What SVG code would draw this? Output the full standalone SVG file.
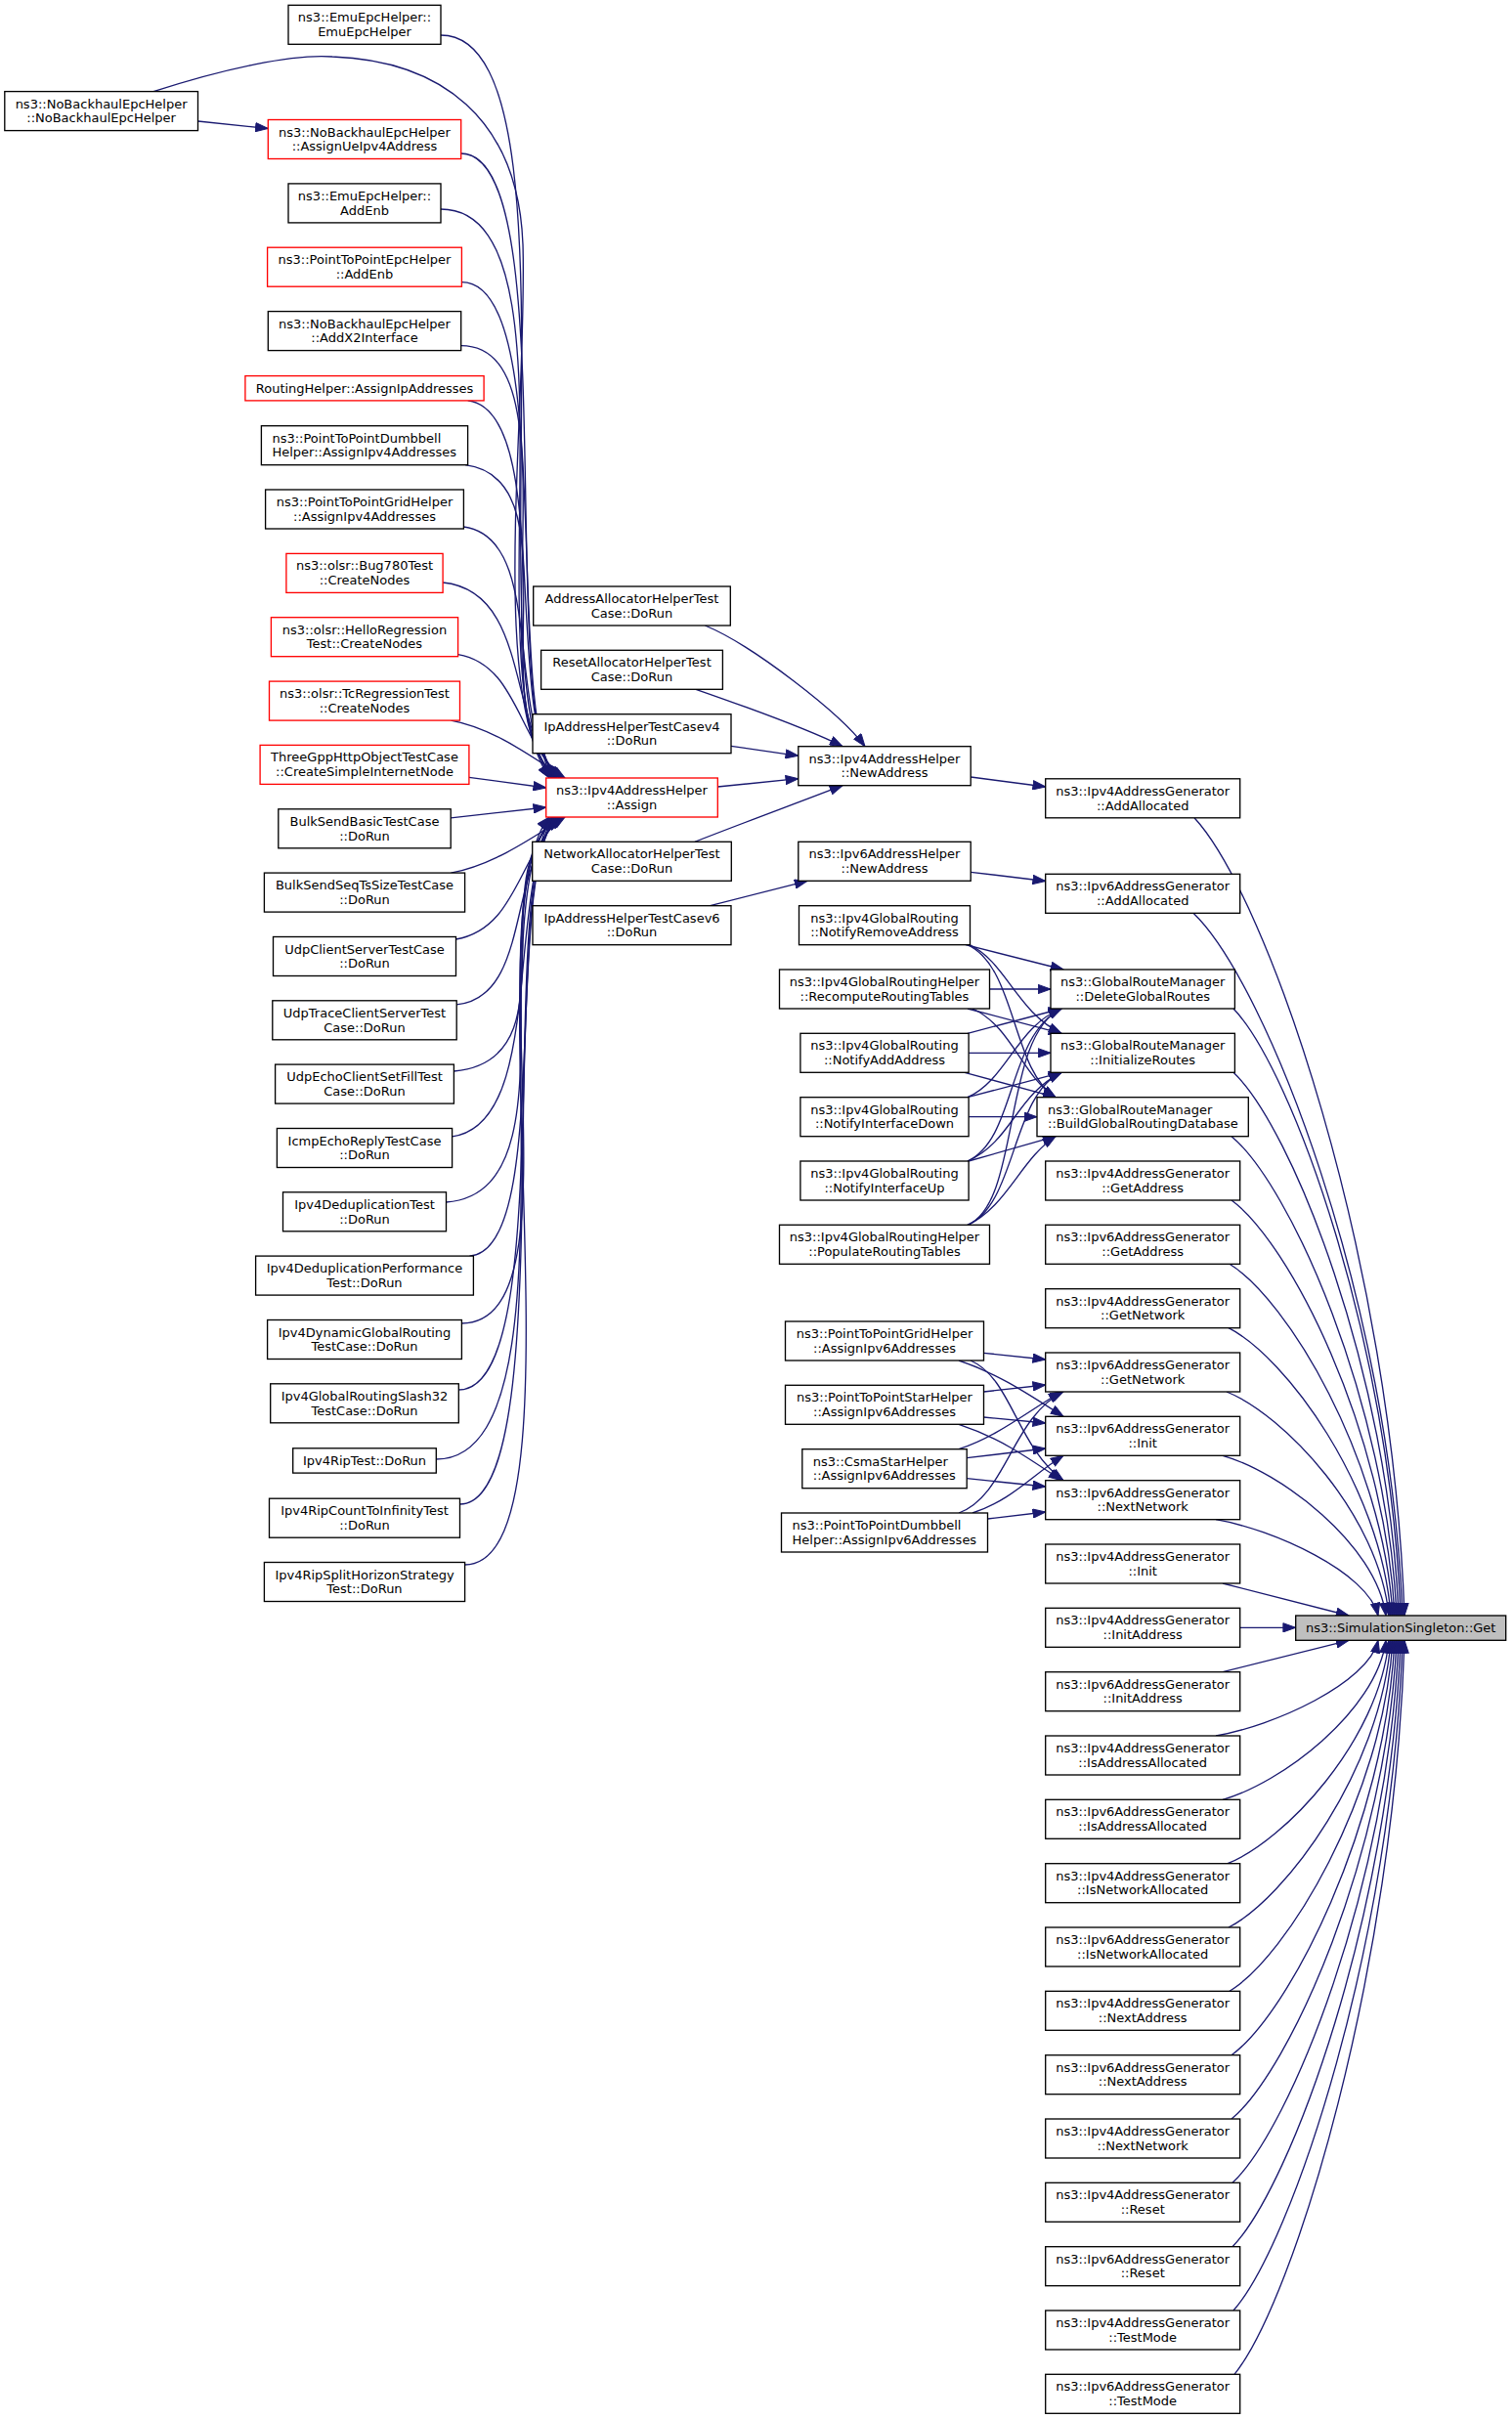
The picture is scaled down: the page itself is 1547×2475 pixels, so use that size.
<svg xmlns="http://www.w3.org/2000/svg" width="1547" height="2475" viewBox="0 0 1547 2475">
<defs>
<marker id="ah" viewBox="0 0 14 10" markerWidth="14" markerHeight="10" refX="13.3" refY="5" orient="auto" markerUnits="userSpaceOnUse"><path d="M0.5,0.4 L13.3,5 L0.5,9.6 z" fill="#191970" stroke="#191970" stroke-width="1"/></marker>
</defs>
<style>
.node rect{fill:#fff;stroke:#000;stroke-width:1.33}
.node.red rect{stroke:#f00}
.node.root rect{fill:#bfbfbf}
text{font-family:"DejaVu Sans","Liberation Sans",sans-serif;font-size:13px;fill:#000}
.c{text-anchor:middle}
.edges path{fill:none;stroke:#191970;stroke-width:1.33;marker-end:url(#ah)}
</style>
<rect x="0" y="0" width="1547" height="2475" fill="#fff"/>
<g class="edges">
<path d="M202.5,124 L274.3,131.5"/>
<path d="M157,93.6 C230,70 300,55 340,58 C450,62 530,120 535,250 C540,420 500,700 562,796"/>
<path d="M451,36 C600,36 485,690 564,796"/>
<path d="M471.7,157 C575,157 510,700 565,796"/>
<path d="M451,214 C600,214 480,705 566,796"/>
<path d="M472.4,288.6 C570,288.6 515,715 567,796"/>
<path d="M471.7,353.6 C595,353.6 485,720 568,796"/>
<path d="M478.7,409.9 C565,420 515,725 569,796"/>
<path d="M476,475.7 C590,490 490,730 570,796"/>
<path d="M474.4,539 C560,550 515,740 572,796"/>
<path d="M453.1,596 C545,605 518,750 574,796"/>
<path d="M468.6,669.6 C530,680 530,760 576,796"/>
<path d="M461.4,737.1 C505,745 545,775 578,796"/>
<path d="M479.9,795.4 L558.7,806"/>
<path d="M461.2,836.8 L558.7,826"/>
<path d="M461.4,893.1 C505,885 545,857 578,836"/>
<path d="M466.5,961 C530,950 530,872 576,836"/>
<path d="M467.2,1027.9 C545,1020 518,882 574,836"/>
<path d="M464.4,1096 C590,1085 490,892 572,836"/>
<path d="M462.6,1162.9 C560,1150 515,902 570,836"/>
<path d="M456.5,1230 C595,1220 485,907 569,836"/>
<path d="M480.4,1285.1 C565,1280 515,912 568,836"/>
<path d="M472.4,1354 C600,1354 480,917 567,836"/>
<path d="M469.3,1422 C570,1422 510,922 566,836"/>
<path d="M446.3,1493 C600,1493 485,927 565,836"/>
<path d="M470.5,1539 C575,1539 505,932 564,836"/>
<path d="M475.6,1601 C605,1601 480,932 562,836"/>
<path d="M721.4,640 C770,660 860,730 885,763.7"/>
<path d="M712,705.3 C760,722 825,745 862,763.7"/>
<path d="M748,763.3 L816.8,773.3"/>
<path d="M734.3,805 L816.8,796.7"/>
<path d="M711,861.3 C760,842 820,820 862,803.7"/>
<path d="M726.6,926.7 L826,901.3"/>
<path d="M993.2,795 L1069.7,805"/>
<path d="M993.2,892.3 L1069.7,901.5"/>
<path d="M988,966.7 L1088,992"/>
<path d="M992,966.7 C1030,985 1040,1035 1086,1057.3"/>
<path d="M990,966.7 C1040,990 1035,1095 1080,1122.7"/>
<path d="M1012.5,1012 L1075,1012"/>
<path d="M990,1032 L1086,1057.3"/>
<path d="M995,1032 C1035,1050 1045,1100 1080,1122.7"/>
<path d="M990,1057.3 L1086,1032"/>
<path d="M991.1,1077.3 L1075,1077.3"/>
<path d="M987,1097.3 L1080,1122.7"/>
<path d="M990,1122.7 C1030,1105 1040,1050 1086,1032"/>
<path d="M990,1122.7 L1086,1097.3"/>
<path d="M991.1,1142.7 L1061,1142.7"/>
<path d="M990,1188 C1040,1165 1030,1060 1086,1032"/>
<path d="M990,1188 C1035,1168 1040,1120 1086,1097.3"/>
<path d="M991,1188 L1080,1162.7"/>
<path d="M990,1253.3 C1045,1230 1025,1060 1086,1032"/>
<path d="M990,1253.3 C1040,1232 1035,1120 1086,1097.3"/>
<path d="M990,1253.3 C1030,1235 1045,1185 1080,1162.7"/>
<path d="M1006.5,1384.3 L1069.7,1391"/>
<path d="M981,1392 C1020,1405 1050,1425 1088,1449.3"/>
<path d="M993,1392 C1035,1410 1040,1480 1088,1514.7"/>
<path d="M1006.5,1424 L1069.7,1417"/>
<path d="M1006.5,1450 L1069.7,1456"/>
<path d="M981,1457.3 C1020,1470 1050,1490 1086,1514.7"/>
<path d="M981,1482.7 C1020,1470 1050,1445 1086,1424"/>
<path d="M989.2,1491.7 L1069.7,1482"/>
<path d="M989.2,1512.7 L1069.7,1521"/>
<path d="M981,1548 C1030,1530 1035,1450 1088,1424"/>
<path d="M995,1548 C1035,1535 1055,1510 1088,1489.3"/>
<path d="M1010.5,1554 L1069.7,1547"/>
<path d="M1222,836.8 C1297.3,918.6 1424.1,1285.8 1437,1653"/>
<path d="M1221,934.3 C1295.9,1006.2 1422.2,1329.6 1435,1653"/>
<path d="M1262,1032 C1321.9,1094.1 1422.7,1373.6 1433,1653"/>
<path d="M1262,1097.3 C1321.2,1152.9 1420.9,1402.9 1431,1653"/>
<path d="M1260,1162.7 C1319.2,1211.7 1418.9,1432.4 1429,1653"/>
<path d="M1260,1228 C1318.5,1270.5 1417,1461.8 1427,1653"/>
<path d="M1258,1293.3 C1316.5,1329.3 1415,1491.1 1425,1653"/>
<path d="M1257,1358.7 C1315.1,1388.1 1413,1520.6 1423,1653"/>
<path d="M1255,1424 C1313.1,1446.9 1411,1550 1421,1653"/>
<path d="M1251,1489.3 C1309.5,1505.7 1408,1579.3 1418,1653"/>
<path d="M1244,1554.7 C1302.1,1564.5 1400,1608.8 1410,1653"/>
<path d="M1251,1620 L1380,1653"/>
<path d="M1268.7,1665.3 L1325.7,1665.3"/>
<path d="M1251,1710.7 L1380,1678.3"/>
<path d="M1244,1776 C1302.1,1766.2 1400,1722.3 1410,1678.3"/>
<path d="M1251,1841.3 C1309.5,1825 1408,1751.7 1418,1678.3"/>
<path d="M1256,1906.7 C1313.8,1883.9 1411.1,1781.1 1421,1678.3"/>
<path d="M1257,1972 C1315.1,1942.6 1413,1810.5 1423,1678.3"/>
<path d="M1258,2037.3 C1316.5,2001.4 1415,1839.9 1425,1678.3"/>
<path d="M1260,2102.7 C1318.5,2060.3 1417,1869.3 1427,1678.3"/>
<path d="M1260,2168 C1319.2,2119 1418.9,1898.7 1429,1678.3"/>
<path d="M1261,2233.3 C1320.5,2177.8 1420.8,1928 1431,1678.3"/>
<path d="M1261,2298.7 C1321.2,2236.7 1422.7,1957.5 1433,1678.3"/>
<path d="M1262,2364 C1322.6,2295.4 1424.6,1986.9 1435,1678.3"/>
<path d="M1263,2429.3 C1323.9,2354.2 1426.6,2016.3 1437,1678.3"/>
</g>
<g id="nA" class="node"><rect x="4.8" y="93.6" width="197.7" height="40"/><text class="c" x="103.6" y="110.6">ns3::NoBackhaulEpcHelper</text><text class="c" x="103.6" y="125.3">::NoBackhaulEpcHelper</text></g>
<g id="b1" class="node"><rect x="295" y="5.3" width="156" height="40"/><text class="c" x="373" y="22.3">ns3::EmuEpcHelper::</text><text class="c" x="373" y="37">EmuEpcHelper</text></g>
<g id="b2" class="node red"><rect x="274.3" y="122.5" width="197.4" height="40"/><text class="c" x="373" y="139.5">ns3::NoBackhaulEpcHelper</text><text class="c" x="373" y="154.2">::AssignUeIpv4Address</text></g>
<g id="b3" class="node"><rect x="295" y="187.9" width="156" height="40"/><text class="c" x="373" y="204.9">ns3::EmuEpcHelper::</text><text class="c" x="373" y="219.6">AddEnb</text></g>
<g id="b4" class="node red"><rect x="273.6" y="253.2" width="198.8" height="40"/><text class="c" x="373" y="270.2">ns3::PointToPointEpcHelper</text><text class="c" x="373" y="284.9">::AddEnb</text></g>
<g id="b5" class="node"><rect x="274.3" y="318.6" width="197.4" height="40"/><text class="c" x="373" y="335.6">ns3::NoBackhaulEpcHelper</text><text class="c" x="373" y="350.3">::AddX2Interface</text></g>
<g id="b6" class="node red"><rect x="250.9" y="384.6" width="244.2" height="25.3"/><text class="c" x="373" y="401.9">RoutingHelper::AssignIpAddresses</text></g>
<g id="b7" class="node"><rect x="267.4" y="435.7" width="211.2" height="40"/><text x="278.4" y="452.7">ns3::PointToPointDumbbell</text><text x="278.4" y="467.4">Helper::AssignIpv4Addresses</text></g>
<g id="b8" class="node"><rect x="271.6" y="501" width="202.8" height="40"/><text class="c" x="373" y="518">ns3::PointToPointGridHelper</text><text class="c" x="373" y="532.7">::AssignIpv4Addresses</text></g>
<g id="b9" class="node red"><rect x="292.9" y="566.4" width="160.2" height="40"/><text class="c" x="373" y="583.4">ns3::olsr::Bug780Test</text><text class="c" x="373" y="598.1">::CreateNodes</text></g>
<g id="b10" class="node red"><rect x="277.4" y="631.7" width="191.2" height="40"/><text class="c" x="373" y="648.7">ns3::olsr::HelloRegression</text><text class="c" x="373" y="663.4">Test::CreateNodes</text></g>
<g id="b11" class="node red"><rect x="275.5" y="697.1" width="195" height="40"/><text class="c" x="373" y="714.1">ns3::olsr::TcRegressionTest</text><text class="c" x="373" y="728.8">::CreateNodes</text></g>
<g id="b12" class="node red"><rect x="266.1" y="762.4" width="213.8" height="40"/><text class="c" x="373" y="779.4">ThreeGppHttpObjectTestCase</text><text class="c" x="373" y="794.1">::CreateSimpleInternetNode</text></g>
<g id="b13" class="node"><rect x="284.8" y="827.8" width="176.4" height="40"/><text class="c" x="373" y="844.8">BulkSendBasicTestCase</text><text class="c" x="373" y="859.5">::DoRun</text></g>
<g id="b14" class="node"><rect x="270.4" y="893.1" width="205.2" height="40"/><text class="c" x="373" y="910.1">BulkSendSeqTsSizeTestCase</text><text class="c" x="373" y="924.8">::DoRun</text></g>
<g id="b15" class="node"><rect x="279.5" y="958.5" width="187" height="40"/><text class="c" x="373" y="975.5">UdpClientServerTestCase</text><text class="c" x="373" y="990.2">::DoRun</text></g>
<g id="b16" class="node"><rect x="278.8" y="1023.8" width="188.4" height="40"/><text class="c" x="373" y="1040.8">UdpTraceClientServerTest</text><text class="c" x="373" y="1055.5">Case::DoRun</text></g>
<g id="b17" class="node"><rect x="281.6" y="1089.1" width="182.8" height="40"/><text class="c" x="373" y="1106.1">UdpEchoClientSetFillTest</text><text class="c" x="373" y="1120.8">Case::DoRun</text></g>
<g id="b18" class="node"><rect x="283.4" y="1154.5" width="179.2" height="40"/><text class="c" x="373" y="1171.5">IcmpEchoReplyTestCase</text><text class="c" x="373" y="1186.2">::DoRun</text></g>
<g id="b19" class="node"><rect x="289.5" y="1219.8" width="167" height="40"/><text class="c" x="373" y="1236.8">Ipv4DeduplicationTest</text><text class="c" x="373" y="1251.5">::DoRun</text></g>
<g id="b20" class="node"><rect x="261.6" y="1285.1" width="222.8" height="40"/><text class="c" x="373" y="1302.1">Ipv4DeduplicationPerformance</text><text class="c" x="373" y="1316.8">Test::DoRun</text></g>
<g id="b21" class="node"><rect x="273.6" y="1350.5" width="198.8" height="40"/><text class="c" x="373" y="1367.5">Ipv4DynamicGlobalRouting</text><text class="c" x="373" y="1382.2">TestCase::DoRun</text></g>
<g id="b22" class="node"><rect x="276.7" y="1415.8" width="192.6" height="40"/><text class="c" x="373" y="1432.8">Ipv4GlobalRoutingSlash32</text><text class="c" x="373" y="1447.5">TestCase::DoRun</text></g>
<g id="b23" class="node"><rect x="299.7" y="1481.8" width="146.6" height="25.3"/><text class="c" x="373" y="1499.1">Ipv4RipTest::DoRun</text></g>
<g id="b24" class="node"><rect x="275.5" y="1533.2" width="195" height="40"/><text class="c" x="373" y="1550.2">Ipv4RipCountToInfinityTest</text><text class="c" x="373" y="1564.9">::DoRun</text></g>
<g id="b25" class="node"><rect x="270.4" y="1598.5" width="205.2" height="40"/><text class="c" x="373" y="1615.5">Ipv4RipSplitHorizonStrategy</text><text class="c" x="373" y="1630.2">Test::DoRun</text></g>
<g id="m1" class="node"><rect x="545.7" y="600" width="201.6" height="40"/><text class="c" x="646.5" y="617">AddressAllocatorHelperTest</text><text class="c" x="646.5" y="631.7">Case::DoRun</text></g>
<g id="m2" class="node"><rect x="553.6" y="665.3" width="185.8" height="40"/><text class="c" x="646.5" y="682.3">ResetAllocatorHelperTest</text><text class="c" x="646.5" y="697">Case::DoRun</text></g>
<g id="m3" class="node"><rect x="545" y="730.7" width="203" height="40"/><text class="c" x="646.5" y="747.7">IpAddressHelperTestCasev4</text><text class="c" x="646.5" y="762.4">::DoRun</text></g>
<g id="m4" class="node red"><rect x="558.7" y="796" width="175.6" height="40"/><text class="c" x="646.5" y="813">ns3::Ipv4AddressHelper</text><text class="c" x="646.5" y="827.7">::Assign</text></g>
<g id="m5" class="node"><rect x="544.7" y="861.3" width="203.6" height="40"/><text class="c" x="646.5" y="878.3">NetworkAllocatorHelperTest</text><text class="c" x="646.5" y="893">Case::DoRun</text></g>
<g id="m6" class="node"><rect x="545" y="926.7" width="203" height="40"/><text class="c" x="646.5" y="943.7">IpAddressHelperTestCasev6</text><text class="c" x="646.5" y="958.4">::DoRun</text></g>
<g id="c1" class="node"><rect x="816.8" y="763.7" width="176.4" height="40"/><text class="c" x="905" y="780.7">ns3::Ipv4AddressHelper</text><text class="c" x="905" y="795.4">::NewAddress</text></g>
<g id="c2" class="node"><rect x="816.8" y="861.3" width="176.4" height="40"/><text class="c" x="905" y="878.3">ns3::Ipv6AddressHelper</text><text class="c" x="905" y="893">::NewAddress</text></g>
<g id="c3" class="node"><rect x="817.5" y="926.7" width="175" height="40"/><text class="c" x="905" y="943.7">ns3::Ipv4GlobalRouting</text><text class="c" x="905" y="958.4">::NotifyRemoveAddress</text></g>
<g id="c4" class="node"><rect x="797.5" y="992" width="215" height="40"/><text class="c" x="905" y="1009">ns3::Ipv4GlobalRoutingHelper</text><text class="c" x="905" y="1023.7">::RecomputeRoutingTables</text></g>
<g id="c5" class="node"><rect x="818.9" y="1057.3" width="172.2" height="40"/><text class="c" x="905" y="1074.3">ns3::Ipv4GlobalRouting</text><text class="c" x="905" y="1089">::NotifyAddAddress</text></g>
<g id="c6" class="node"><rect x="818.9" y="1122.7" width="172.2" height="40"/><text class="c" x="905" y="1139.7">ns3::Ipv4GlobalRouting</text><text class="c" x="905" y="1154.4">::NotifyInterfaceDown</text></g>
<g id="c7" class="node"><rect x="818.9" y="1188" width="172.2" height="40"/><text class="c" x="905" y="1205">ns3::Ipv4GlobalRouting</text><text class="c" x="905" y="1219.7">::NotifyInterfaceUp</text></g>
<g id="c8" class="node"><rect x="797.5" y="1253.3" width="215" height="40"/><text class="c" x="905" y="1270.3">ns3::Ipv4GlobalRoutingHelper</text><text class="c" x="905" y="1285">::PopulateRoutingTables</text></g>
<g id="c9" class="node"><rect x="803.5" y="1352" width="203" height="40"/><text class="c" x="905" y="1369">ns3::PointToPointGridHelper</text><text class="c" x="905" y="1383.7">::AssignIpv6Addresses</text></g>
<g id="c10" class="node"><rect x="803.5" y="1417.3" width="203" height="40"/><text class="c" x="905" y="1434.3">ns3::PointToPointStarHelper</text><text class="c" x="905" y="1449">::AssignIpv6Addresses</text></g>
<g id="c11" class="node"><rect x="820.8" y="1482.7" width="168.4" height="40"/><text x="831.8" y="1499.7">ns3::CsmaStarHelper</text><text x="831.8" y="1514.4">::AssignIpv6Addresses</text></g>
<g id="c12" class="node"><rect x="799.5" y="1548" width="211" height="40"/><text x="810.5" y="1565">ns3::PointToPointDumbbell</text><text x="810.5" y="1579.7">Helper::AssignIpv6Addresses</text></g>
<g id="d1" class="node"><rect x="1069.7" y="796.8" width="199" height="40"/><text class="c" x="1169.2" y="813.8">ns3::Ipv4AddressGenerator</text><text class="c" x="1169.2" y="828.5">::AddAllocated</text></g>
<g id="d2" class="node"><rect x="1069.7" y="894.3" width="199" height="40"/><text class="c" x="1169.2" y="911.3">ns3::Ipv6AddressGenerator</text><text class="c" x="1169.2" y="926">::AddAllocated</text></g>
<g id="d3" class="node"><rect x="1075" y="992" width="188.4" height="40"/><text class="c" x="1169.2" y="1009">ns3::GlobalRouteManager</text><text class="c" x="1169.2" y="1023.7">::DeleteGlobalRoutes</text></g>
<g id="d4" class="node"><rect x="1075" y="1057.3" width="188.4" height="40"/><text class="c" x="1169.2" y="1074.3">ns3::GlobalRouteManager</text><text class="c" x="1169.2" y="1089">::InitializeRoutes</text></g>
<g id="d5" class="node"><rect x="1061" y="1122.7" width="216.3" height="40"/><text x="1072" y="1139.7">ns3::GlobalRouteManager</text><text x="1072" y="1154.4">::BuildGlobalRoutingDatabase</text></g>
<g id="d6" class="node"><rect x="1069.7" y="1188" width="199" height="40"/><text class="c" x="1169.2" y="1205">ns3::Ipv4AddressGenerator</text><text class="c" x="1169.2" y="1219.7">::GetAddress</text></g>
<g id="d7" class="node"><rect x="1069.7" y="1253.3" width="199" height="40"/><text class="c" x="1169.2" y="1270.3">ns3::Ipv6AddressGenerator</text><text class="c" x="1169.2" y="1285">::GetAddress</text></g>
<g id="d8" class="node"><rect x="1069.7" y="1318.7" width="199" height="40"/><text class="c" x="1169.2" y="1335.7">ns3::Ipv4AddressGenerator</text><text class="c" x="1169.2" y="1350.4">::GetNetwork</text></g>
<g id="d9" class="node"><rect x="1069.7" y="1384" width="199" height="40"/><text class="c" x="1169.2" y="1401">ns3::Ipv6AddressGenerator</text><text class="c" x="1169.2" y="1415.7">::GetNetwork</text></g>
<g id="d10" class="node"><rect x="1069.7" y="1449.3" width="199" height="40"/><text class="c" x="1169.2" y="1466.3">ns3::Ipv6AddressGenerator</text><text class="c" x="1169.2" y="1481">::Init</text></g>
<g id="d11" class="node"><rect x="1069.7" y="1514.7" width="199" height="40"/><text class="c" x="1169.2" y="1531.7">ns3::Ipv6AddressGenerator</text><text class="c" x="1169.2" y="1546.4">::NextNetwork</text></g>
<g id="d12" class="node"><rect x="1069.7" y="1580" width="199" height="40"/><text class="c" x="1169.2" y="1597">ns3::Ipv4AddressGenerator</text><text class="c" x="1169.2" y="1611.7">::Init</text></g>
<g id="d13" class="node"><rect x="1069.7" y="1645.3" width="199" height="40"/><text class="c" x="1169.2" y="1662.3">ns3::Ipv4AddressGenerator</text><text class="c" x="1169.2" y="1677">::InitAddress</text></g>
<g id="d14" class="node"><rect x="1069.7" y="1710.7" width="199" height="40"/><text class="c" x="1169.2" y="1727.7">ns3::Ipv6AddressGenerator</text><text class="c" x="1169.2" y="1742.4">::InitAddress</text></g>
<g id="d15" class="node"><rect x="1069.7" y="1776" width="199" height="40"/><text class="c" x="1169.2" y="1793">ns3::Ipv4AddressGenerator</text><text class="c" x="1169.2" y="1807.7">::IsAddressAllocated</text></g>
<g id="d16" class="node"><rect x="1069.7" y="1841.3" width="199" height="40"/><text class="c" x="1169.2" y="1858.3">ns3::Ipv6AddressGenerator</text><text class="c" x="1169.2" y="1873">::IsAddressAllocated</text></g>
<g id="d17" class="node"><rect x="1069.7" y="1906.7" width="199" height="40"/><text class="c" x="1169.2" y="1923.7">ns3::Ipv4AddressGenerator</text><text class="c" x="1169.2" y="1938.4">::IsNetworkAllocated</text></g>
<g id="d18" class="node"><rect x="1069.7" y="1972" width="199" height="40"/><text class="c" x="1169.2" y="1989">ns3::Ipv6AddressGenerator</text><text class="c" x="1169.2" y="2003.7">::IsNetworkAllocated</text></g>
<g id="d19" class="node"><rect x="1069.7" y="2037.3" width="199" height="40"/><text class="c" x="1169.2" y="2054.3">ns3::Ipv4AddressGenerator</text><text class="c" x="1169.2" y="2069">::NextAddress</text></g>
<g id="d20" class="node"><rect x="1069.7" y="2102.7" width="199" height="40"/><text class="c" x="1169.2" y="2119.7">ns3::Ipv6AddressGenerator</text><text class="c" x="1169.2" y="2134.4">::NextAddress</text></g>
<g id="d21" class="node"><rect x="1069.7" y="2168" width="199" height="40"/><text class="c" x="1169.2" y="2185">ns3::Ipv4AddressGenerator</text><text class="c" x="1169.2" y="2199.7">::NextNetwork</text></g>
<g id="d22" class="node"><rect x="1069.7" y="2233.3" width="199" height="40"/><text class="c" x="1169.2" y="2250.3">ns3::Ipv4AddressGenerator</text><text class="c" x="1169.2" y="2265">::Reset</text></g>
<g id="d23" class="node"><rect x="1069.7" y="2298.7" width="199" height="40"/><text class="c" x="1169.2" y="2315.7">ns3::Ipv6AddressGenerator</text><text class="c" x="1169.2" y="2330.4">::Reset</text></g>
<g id="d24" class="node"><rect x="1069.7" y="2364" width="199" height="40"/><text class="c" x="1169.2" y="2381">ns3::Ipv4AddressGenerator</text><text class="c" x="1169.2" y="2395.7">::TestMode</text></g>
<g id="d25" class="node"><rect x="1069.7" y="2429.3" width="199" height="40"/><text class="c" x="1169.2" y="2446.3">ns3::Ipv6AddressGenerator</text><text class="c" x="1169.2" y="2461">::TestMode</text></g>
<g id="get" class="node root"><rect x="1325.7" y="1653" width="215" height="25.3"/><text class="c" x="1433.2" y="1670.3">ns3::SimulationSingleton::Get</text></g>
</svg>
